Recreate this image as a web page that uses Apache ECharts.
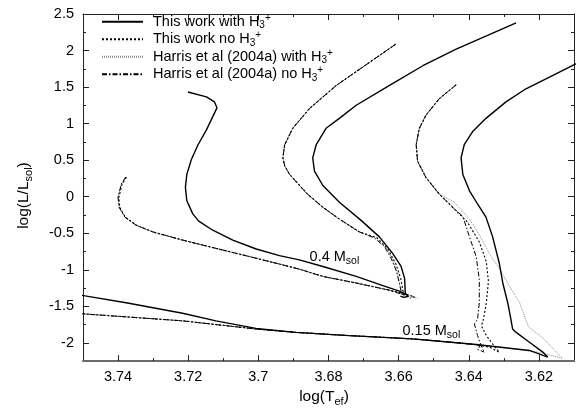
<!DOCTYPE html>
<html>
<head>
<meta charset="utf-8">
<script src="https://cdn.jsdelivr.net/npm/echarts@6/dist/echarts.min.js"></script>
<style>
  html, body { margin: 0; padding: 0; background: #fff; }
  #chart { width: 581px; height: 412px; }
</style>
</head>
<body>
<div id="chart"></div>
<script>
// Axis tick positions
const xMajorTicks = [3.62, 3.64, 3.66, 3.68, 3.70, 3.72, 3.74];
const xMinorTicks = [3.63, 3.65, 3.67, 3.69, 3.71, 3.73];
const yMajorTicks = [-2, -1.5, -1, -0.5, 0, 0.5, 1, 1.5, 2, 2.5];
const yMinorTicks = [-1.75, -1.25, -0.75, -0.25, 0.25, 0.75, 1.25, 1.75, 2.25];

// Legend entries
const seriesNames = ['This work with H3+', 'This work no H3+', 'Harris et al (2004a) with H3+', 'Harris et al (2004a) no H3+'];

// Tracks, [log Teff, log L/Lsun]
// --- This work with H3+ (solid) ---
const withH3Lower04 = [[3.7201,1.432],[3.7148,1.365],[3.7125,1.297],[3.7118,1.216],[3.7130,1.095],[3.7148,0.914],[3.7172,0.711],[3.7191,0.508],[3.7204,0.305],[3.7208,0.126],[3.7204,-0.054],[3.7187,-0.235],[3.7170,-0.334],[3.7130,-0.459],[3.7073,-0.595],[3.7006,-0.716],[3.6940,-0.807],[3.6883,-0.865],[3.6816,-0.955],[3.6721,-1.091],[3.6645,-1.216],[3.6598,-1.293],[3.6579,-1.338],[3.6572,-1.362],[3.6585,-1.378],[3.6595,-1.360]];
const withH3Upper04 = [[3.6265,2.378],[3.6436,2.018],[3.6531,1.792],[3.6626,1.522],[3.6721,1.251],[3.6769,1.072],[3.6807,0.936],[3.6835,0.711],[3.6845,0.531],[3.6840,0.351],[3.6816,0.153],[3.6769,-0.077],[3.6707,-0.324],[3.6655,-0.550],[3.6617,-0.776],[3.6593,-0.955],[3.6583,-1.118],[3.6581,-1.316],[3.6579,-1.338]];
const withH3Upper015 = [[3.6056,1.909],[3.6102,1.801],[3.6170,1.635],[3.6237,1.477],[3.6294,1.297],[3.6351,1.072],[3.6389,0.892],[3.6413,0.711],[3.6422,0.531],[3.6417,0.305],[3.6398,0.081],[3.6375,-0.100],[3.6351,-0.280],[3.6332,-0.550],[3.6313,-0.911],[3.6303,-1.181],[3.6289,-1.451],[3.6280,-1.676],[3.6275,-1.811],[3.6265,-1.857],[3.6227,-1.992],[3.6189,-2.127],[3.6175,-2.195]];
const withH3Lower015 = [[3.7510,-1.345],[3.7377,-1.451],[3.7216,-1.595],[3.7121,-1.699],[3.7007,-1.803],[3.6893,-1.857],[3.6741,-1.901],[3.6561,-1.946],[3.6379,-2.023],[3.6227,-2.104],[3.6175,-2.195]];

// --- This work no H3+ (dotted) ---
const noH3Lower04 = [[3.7376,0.265],[3.7389,0.165],[3.7398,-0.012],[3.7395,-0.148],[3.7379,-0.283],[3.7346,-0.395],[3.7299,-0.485],[3.7213,-0.598],[3.7118,-0.711],[3.7023,-0.823],[3.6947,-0.914],[3.6881,-0.995],[3.6814,-1.094],[3.6719,-1.184],[3.6624,-1.283],[3.6577,-1.337],[3.6555,-1.370],[3.6568,-1.390]];
const noH3Upper04 = [[3.6609,2.085],[3.6683,1.838],[3.6778,1.522],[3.6854,1.207],[3.6902,0.936],[3.6925,0.711],[3.6930,0.531],[3.6925,0.423],[3.6911,0.305],[3.6860,0.035],[3.6816,-0.145],[3.6769,-0.307],[3.6712,-0.482],[3.6662,-0.560],[3.6630,-0.720],[3.6608,-0.920],[3.6594,-1.120],[3.6587,-1.300],[3.6583,-1.375]];
const noH3Upper015 = [[3.6436,1.531],[3.6484,1.342],[3.6522,1.116],[3.6541,0.936],[3.6550,0.711],[3.6546,0.486],[3.6522,0.261],[3.6484,0.035],[3.6446,-0.145],[3.6404,-0.347],[3.6370,-0.618],[3.6350,-0.888],[3.6344,-1.158],[3.6350,-1.455],[3.6358,-1.672],[3.6364,-1.766],[3.6350,-1.901],[3.6333,-2.009],[3.6313,-2.131]];
const noH3Lower015 = [[3.7510,-1.600],[3.7216,-1.699],[3.7007,-1.811],[3.6893,-1.857],[3.6741,-1.901],[3.6561,-1.946],[3.6455,-1.989],[3.6379,-2.025],[3.6340,-2.060],[3.6313,-2.131]];

// --- Harris et al (2004a) with H3+ (fine grey dots) ---
const harrisWithLower04 = [[3.7378,0.270],[3.7391,0.170],[3.7400,-0.009],[3.7397,-0.145],[3.7381,-0.280],[3.7348,-0.392],[3.7301,-0.482],[3.7215,-0.595],[3.7120,-0.708],[3.7025,-0.820],[3.6949,-0.911],[3.6883,-0.992],[3.6816,-1.091],[3.6721,-1.181],[3.6626,-1.280],[3.6579,-1.334],[3.6546,-1.388]];
const harrisWithUpper04 = [[3.6609,2.085],[3.6683,1.838],[3.6778,1.522],[3.6854,1.207],[3.6902,0.936],[3.6925,0.711],[3.6930,0.531],[3.6925,0.423],[3.6911,0.305],[3.6860,0.035],[3.6816,-0.145],[3.6769,-0.307],[3.6712,-0.482],[3.6664,-0.570],[3.6636,-0.700],[3.6616,-0.870],[3.6603,-1.050],[3.6596,-1.220],[3.6580,-1.360],[3.6550,-1.385]];
const harrisWithUpper015 = [[3.6436,1.531],[3.6484,1.342],[3.6522,1.116],[3.6541,0.936],[3.6550,0.711],[3.6546,0.486],[3.6522,0.261],[3.6484,0.035],[3.6441,-0.077],[3.6398,-0.307],[3.6370,-0.523],[3.6341,-0.780],[3.6313,-0.982],[3.6284,-1.226],[3.6256,-1.442],[3.6239,-1.658],[3.6230,-1.780],[3.6190,-1.928],[3.6133,-2.212]];
const harrisWithLower015 = [[3.7510,-1.600],[3.7216,-1.699],[3.7007,-1.811],[3.6893,-1.857],[3.6741,-1.901],[3.6561,-1.946],[3.6455,-1.989],[3.6379,-2.025],[3.6300,-2.065],[3.6200,-2.130],[3.6133,-2.212]];

// --- Harris et al (2004a) no H3+ (dash-dot) ---
const harrisNoLower04 = [[3.7378,0.270],[3.7391,0.170],[3.7400,-0.009],[3.7397,-0.145],[3.7381,-0.280],[3.7348,-0.392],[3.7301,-0.482],[3.7215,-0.595],[3.7120,-0.708],[3.7025,-0.820],[3.6949,-0.911],[3.6883,-0.992],[3.6816,-1.091],[3.6721,-1.181],[3.6626,-1.280],[3.6585,-1.345]];
const harrisNoUpper04 = [[3.6609,2.085],[3.6683,1.838],[3.6778,1.522],[3.6854,1.207],[3.6902,0.936],[3.6925,0.711],[3.6930,0.531],[3.6925,0.423],[3.6911,0.305],[3.6860,0.035],[3.6816,-0.145],[3.6769,-0.307],[3.6712,-0.482],[3.6669,-0.564],[3.6640,-0.685],[3.6621,-0.847],[3.6606,-1.023],[3.6598,-1.185],[3.6592,-1.320],[3.6588,-1.360]];
const harrisNoUpper015 = [[3.6436,1.531],[3.6484,1.342],[3.6522,1.116],[3.6541,0.936],[3.6550,0.711],[3.6546,0.486],[3.6522,0.261],[3.6484,0.035],[3.6446,-0.145],[3.6417,-0.270],[3.6398,-0.550],[3.6379,-0.820],[3.6370,-1.135],[3.6370,-1.451],[3.6375,-1.676],[3.6384,-1.743],[3.6375,-1.901],[3.6365,-2.036],[3.6356,-2.127]];
const harrisNoLower015 = [[3.7510,-1.600],[3.7216,-1.699],[3.7007,-1.811],[3.6893,-1.857],[3.6741,-1.901],[3.6561,-1.946],[3.6455,-1.989],[3.6379,-2.025],[3.6368,-2.050],[3.6375,-2.090],[3.6356,-2.127]];

// Mass annotations: [log Teff, log L, mass]
const massLabels = [[3.6854, -0.83, '0.4'], [3.6589, -1.84, '0.15']];

const FONT = '"Liberation Sans", Arial, Helvetica, sans-serif';

const styles = {
  'This work with H3+': { color: '#000', width: 1.4, type: 'solid' },
  'This work no H3+': { color: '#000', width: 1.1, type: [2, 2] },
  'Harris et al (2004a) with H3+': { color: '#8c8c8c', width: 1, type: [1, 1] },
  'Harris et al (2004a) no H3+': { color: '#000', width: 1, type: [5, 2, 1.5, 2] }
};

const legendRich = {
  'This work with H3+': '{a|This work with H}{sub|3}{sup|+}',
  'This work no H3+': '{a|This work no H}{sub|3}{sup|+}',
  'Harris et al (2004a) with H3+': '{a|Harris et al (2004a) with H}{sub|3}{sup|+}',
  'Harris et al (2004a) no H3+': '{a|Harris et al (2004a) no H}{sub|3}{sup|+}'
};

function track(name, data, z) {
  return {
    type: 'line', name: name, data: data,
    symbol: 'none', showSymbol: false, smooth: false,
    itemStyle: { color: styles[name].color },
    lineStyle: styles[name], silent: true, z: z,
    xAxisIndex: 0, yAxisIndex: 0
  };
}

const series = [
  track(seriesNames[2], harrisWithLower04, 2),
  track(seriesNames[2], harrisWithUpper04, 2),
  track(seriesNames[2], harrisWithUpper015, 2),
  track(seriesNames[2], harrisWithLower015, 2),
  track(seriesNames[3], harrisNoLower04, 3),
  track(seriesNames[3], harrisNoUpper04, 3),
  track(seriesNames[3], harrisNoUpper015, 3),
  track(seriesNames[3], harrisNoLower015, 3),
  track(seriesNames[1], noH3Lower04, 4),
  track(seriesNames[1], noH3Upper04, 4),
  track(seriesNames[1], noH3Upper015, 4),
  track(seriesNames[1], noH3Lower015, 4),
  track(seriesNames[0], withH3Lower04, 5),
  track(seriesNames[0], withH3Upper04, 5),
  track(seriesNames[0], withH3Upper015, 5),
  track(seriesNames[0], withH3Lower015, 5),
  {
    type: 'scatter', silent: true, z: 6,
    data: massLabels.map(m => ({ value: [m[0], m[1]], mass: m[2] })),
    symbolSize: 0,
    itemStyle: { opacity: 1, color: '#000' },
    label: {
      show: true, position: 'right', distance: 0, opacity: 1, color: '#000',
      formatter: p => '{a|' + p.data.mass + ' M}{s|sol}',
      rich: {
        a: { fontFamily: FONT, fontSize: 14.5, color: '#000', lineHeight: 18 },
        s: { fontFamily: FONT, fontSize: 10.5, color: '#000', lineHeight: 10, verticalAlign: 'bottom' }
      }
    }
  }
];

const axisLineDark = { show: true, onZero: false, lineStyle: { color: '#222', width: 1 } };

function xAx(position, ticks, len, labels, line) {
  return {
    type: 'value', min: 3.61, max: 3.75, inverse: true, position: position,
    axisLine: line ? (position === 'bottom' ? { show: true, onZero: false, lineStyle: { color: '#6a6a6a', width: 2 } } : axisLineDark) : { show: false, onZero: false },
    axisTick: { show: true, inside: true, length: len, customValues: ticks, lineStyle: { color: '#222', width: 1 } },
    axisLabel: labels ? { show: true, customValues: ticks, margin: 8, color: '#000', fontFamily: FONT, fontSize: 14.5 } : { show: false },
    splitLine: { show: false }, minorTick: { show: false }
  };
}
function yAx(position, ticks, len, labels, line) {
  return {
    type: 'value', min: -2.25, max: 2.5, position: position,
    axisLine: line ? axisLineDark : { show: false, onZero: false },
    axisTick: { show: true, inside: true, length: len, customValues: ticks, lineStyle: { color: '#222', width: 1 } },
    axisLabel: labels ? { show: true, customValues: ticks, margin: 9, color: '#000', fontFamily: FONT, fontSize: 14.5 } : { show: false },
    splitLine: { show: false }, minorTick: { show: false }
  };
}

const xBottom = xAx('bottom', xMajorTicks, 6, true, true);
xBottom.name = '{a|log(T}{s|ef}{a|)}';
xBottom.nameLocation = 'middle';
xBottom.nameGap = 21;
xBottom.nameTextStyle = {
  padding: [0, 9, 0, 0],
  rich: {
    a: { fontFamily: FONT, fontSize: 15.5, color: '#000', lineHeight: 20 },
    s: { fontFamily: FONT, fontSize: 11, color: '#000', lineHeight: 10, verticalAlign: 'bottom' }
  }
};
const yLeft = yAx('left', yMajorTicks, 6, true, true);
yLeft.name = '{a|log(L/L}{s|sol}{a|)}';
yLeft.nameLocation = 'middle';
yLeft.nameGap = 49;
yLeft.nameTextStyle = {
  padding: [0, 16, 0, 0],
  rich: {
    a: { fontFamily: FONT, fontSize: 15.5, color: '#000', lineHeight: 20 },
    s: { fontFamily: FONT, fontSize: 11, color: '#000', lineHeight: 10, verticalAlign: 'bottom' }
  }
};

const option = {
  animation: false,
  backgroundColor: '#fff',
  grid: { left: 83, right: 7, top: 14, bottom: 46 },
  xAxis: [
    xBottom,
    xAx('top', xMajorTicks, 6, false, true),
    xAx('bottom', xMinorTicks, 3, false, false),
    xAx('top', xMinorTicks, 3, false, false)
  ],
  yAxis: [
    yLeft,
    yAx('right', yMajorTicks, 6, false, true),
    yAx('left', yMinorTicks, 3, false, false),
    yAx('right', yMinorTicks, 3, false, false)
  ],
  legend: {
    data: seriesNames,
    orient: 'vertical',
    left: 101, top: 13,
    padding: 0, itemGap: 0,
    itemWidth: 41, itemHeight: 14,
    selectedMode: false,
    itemStyle: { opacity: 0 },
    formatter: name => legendRich[name],
    textStyle: {
      fontFamily: FONT, fontSize: 14.5, color: '#000', padding: [0, 0, 0, 5],
      rich: {
        a: { fontFamily: FONT, fontSize: 14.5, color: '#000', lineHeight: 17.5 },
        sub: { fontFamily: FONT, fontSize: 10, color: '#000', lineHeight: 9, verticalAlign: 'bottom' },
        sup: { fontFamily: FONT, fontSize: 10, color: '#000', lineHeight: 9, verticalAlign: 'top' }
      }
    }
  },
  series: series
};

const chart = echarts.init(document.getElementById('chart'), null, { renderer: 'canvas' });
chart.setOption(option);
</script>
</body>
</html>
